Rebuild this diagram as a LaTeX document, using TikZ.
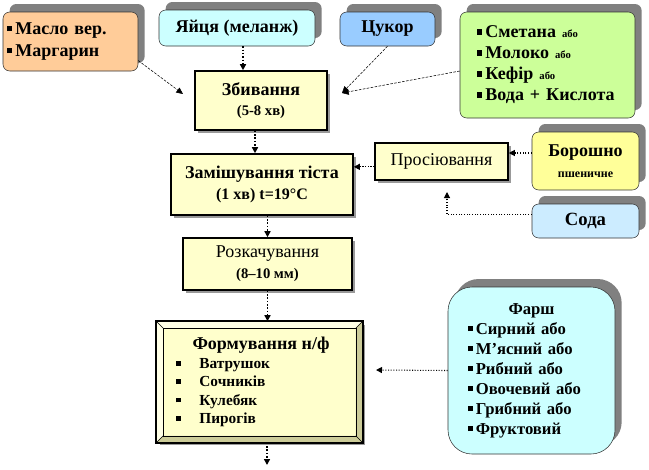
\documentclass[tikz,border=0pt]{standalone}
\usepackage{fontspec}
\setmainfont{Liberation Serif}
\usetikzlibrary{arrows.meta,shadows,calc}
\definecolor{butter}{HTML}{FFCC99}
\definecolor{eggcyan}{HTML}{CCFFFF}
\definecolor{sugarblue}{HTML}{99CCFF}
\definecolor{creamgreen}{HTML}{CCFF99}
\definecolor{stageyellow}{HTML}{FFFFCC}
\definecolor{flouryellow}{HTML}{FFFF99}
\definecolor{sodablue}{HTML}{CCECFF}
\definecolor{bevellight}{HTML}{FFFFE6}
\definecolor{beveldark}{HTML}{CCCC99}
\newcommand{\sq}{\rule[0.18em]{0.3em}{0.3em}\,}
\newcommand{\abo}{{\fontsize{8}{8}\selectfont або}}
\tikzset{
  src/.style={draw=black!80, thin, rounded corners=5pt, inner sep=0pt,
    font=\bfseries\fontsize{13.5}{16}\selectfont,
    drop shadow={shadow xshift=5pt, shadow yshift=6pt, fill=black!50, opacity=1}},
  stagebox/.style={draw, line width=1.2pt, fill=stageyellow, align=center, inner sep=0pt,
    drop shadow={shadow xshift=2.25pt, shadow yshift=-2.25pt, fill=black!40, opacity=1}},
  flow/.style={line width=1.1pt, dash pattern=on 1.1pt off 1.4pt, -{Triangle[length=4.5pt,width=4.5pt]}},
  feed/.style={line width=0.8pt, dash pattern=on 0.8pt off 1.2pt, -{Triangle[length=4.5pt,width=4.5pt]}},
  mix/.style={thin, dash pattern=on 2pt off 1pt, -{Triangle[length=5pt,width=4.5pt]}}
}
\begin{document}
\begin{tikzpicture}[x=0.75pt,y=-0.75pt]
\useasboundingbox (0,0) rectangle (649,469);

\node[src, fill=butter, minimum height=44.25pt, text width=95.25pt, inner xsep=3pt, align=left,
  font=\bfseries\fontsize{13.5}{16.5}\selectfont] (maslo) at (70.5,41.5)
  {\sq Масло вер.\\ \sq Маргарин};
\node[src, fill=eggcyan, minimum width=117pt, minimum height=27pt] (yajcya) at (237,28) {Яйця (меланж)};
\node[src, fill=sugarblue, minimum width=71.25pt, minimum height=25.5pt] (cukor) at (387.5,29) {Цукор};
\node[src, fill=creamgreen, minimum height=79.5pt, text width=105.75pt, inner xsep=12.75pt, align=left,
  font=\bfseries\fontsize{13.5}{15.75}\selectfont] (smetana) at (547.5,65)
  {\sq Сметана \abo\\ \sq Молоко \abo\\ \sq Кефір \abo\\ \sq Вода + Кислота};

\node[stagebox, minimum width=99pt, minimum height=44.25pt, font=\bfseries\fontsize{13.5}{15}\selectfont]
  (zbyv) at (261,100.5) {Збивання\\ {\fontsize{11}{15}\selectfont (5-8 хв)}};
\node[stagebox, minimum width=136.5pt, minimum height=45.75pt, font=\bfseries\fontsize{13.5}{15.75}\selectfont]
  (zamish) at (262,184.5) {Замішування тіста\\ {\fontsize{12}{15.75}\selectfont (1 хв) t=19°C}};
\node[stagebox, minimum width=99.75pt, minimum height=27.75pt, font=\fontsize{13.5}{16}\selectfont]
  (prosiy) at (441.5,161.5) {Просіювання};
\node[src, fill=flouryellow, minimum width=80.25pt, minimum height=43.5pt, align=center,
  font=\bfseries\fontsize{13.5}{15.75}\selectfont] (boroshno) at (585.5,161)
  {Борошно\\ {\fontsize{9}{15.75}\selectfont пшеничне}};
\node[src, fill=sodablue, minimum width=80.25pt, minimum height=25.5pt, font=\bfseries\fontsize{14}{16}\selectfont]
  (soda) at (585.5,221) {Сода};
\node[stagebox, minimum width=126.75pt, minimum height=39pt, font=\fontsize{13.5}{15.75}\selectfont]
  (rozk) at (267.5,264) {Розкачування\\ {\bfseries\fontsize{11}{15.75}\selectfont (8–10 мм)}};

\node[stagebox, minimum width=153.75pt, minimum height=90pt] (form) at (259.5,382) {};
\pgfmathsetmacro{\bv}{7}
\fill[bevellight] (form.north west) -- (form.north east) -- ([shift={(-\bv,\bv)}]form.north east)
  -- ([shift={(\bv,\bv)}]form.north west) -- cycle;
\fill[bevellight] (form.north west) -- ([shift={(\bv,\bv)}]form.north west)
  -- ([shift={(\bv,-\bv)}]form.south west) -- (form.south west) -- cycle;
\fill[beveldark] (form.south west) -- (form.south east) -- ([shift={(-\bv,-\bv)}]form.south east)
  -- ([shift={(\bv,-\bv)}]form.south west) -- cycle;
\fill[beveldark] (form.north east) -- (form.south east) -- ([shift={(-\bv,-\bv)}]form.south east)
  -- ([shift={(-\bv,\bv)}]form.north east) -- cycle;
\foreach \c/\dx/\dy in {north west/1/1, north east/-1/1, south west/1/-1, south east/-1/-1}
  \draw[thin] (form.\c) -- ([shift={(\dx*\bv,\dy*\bv)}]form.\c);
\draw[thin] ([shift={(\bv,\bv)}]form.north west) rectangle ([shift={(-\bv,-\bv)}]form.south east);
\draw[line width=1.2pt] (form.north west) rectangle (form.south east);
\node[font=\bfseries\fontsize{13.5}{16}\selectfont] (formt) at (261,345) {Формування н/ф};
\node[anchor=west, inner sep=0pt, align=left, font=\bfseries\fontsize{11.5}{13.7}\selectfont]
  (forml) at (176,392.5)
  {\sq\hspace{12pt}Ватрушок\\ \sq\hspace{12pt}Сочників\\ \sq\hspace{12pt}Кулебяк\\ \sq\hspace{12pt}Пирогів};

\node[src, fill=eggcyan, rounded corners=18pt, minimum height=125.25pt, text width=95.25pt, inner xsep=15pt,
  font=\bfseries\fontsize{12.5}{15}\selectfont] (farsh) at (531.5,370.5)
  {{\centering Фарш\par}\raggedright
   \sq Сирний або\\ \sq М’ясний або\\ \sq Рибний або\\ \sq Овочевий або\\ \sq Грибний або\\ \sq Фруктовий};

\coordinate (zl) at (183,94);
\coordinate (zr) at (342,93);
\coordinate (sin) at (447,192);
\coordinate (fin) at (376,370);
\coordinate (out) at (267,465);

\draw[mix] ([yshift=8pt]maslo.south east) -- (zl);
\draw[mix] (cukor.south) -- (zr);
\draw[mix] ([yshift=-4.5pt]smetana.west) -- (zr);
\draw[flow] ([xshift=4.5pt]yajcya.south) -- ([xshift=4.5pt]yajcya.south |- zbyv.north);
\draw[flow] ([xshift=-4.5pt]zbyv.south) -- ([xshift=-4.5pt]zbyv.south |- zamish.north);
\draw[flow] (rozk.north |- zamish.south) -- (rozk.north);
\draw[flow] (rozk.south) -- (rozk.south |- form.north);
\draw[flow] (form.south -| out) -- (out);
\draw[feed] ([yshift=6pt]boroshno.west) -- ([yshift=6pt]boroshno.west -| prosiy.east);
\draw[feed] ([yshift=5pt]soda.west) -| (sin);
\draw[feed] ([yshift=-4pt]prosiy.west) -- ([yshift=-4pt]prosiy.west -| zamish.east);
\draw[feed] (farsh.west) -- (fin);
\end{tikzpicture}
\end{document}
